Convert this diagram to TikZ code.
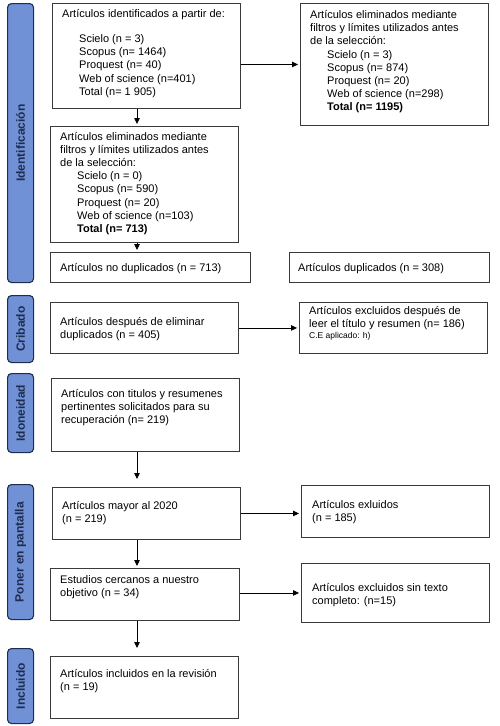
\documentclass[tikz,border=0pt]{standalone}
\usepackage{fontspec}
\setmainfont{Liberation Sans}
\usetikzlibrary{positioning, arrows.meta}
\definecolor{stageBlue}{HTML}{7191D6}
\definecolor{stageNavy}{HTML}{1E2D4F}
\definecolor{boxGrey}{HTML}{3A3A3A}
\newcommand{\dbindent}{\hspace*{17pt}}

\begin{document}
\begin{tikzpicture}[x=1pt, y=-1pt, font=\fontsize{11}{13.2}\selectfont,
  stage/.style={draw=stageNavy, fill=stageBlue, line width=1.1pt, rounded corners=4pt, minimum width=26pt, anchor=north west, inner sep=0pt},
  stagelabel/.style={rotate=90, text=stageNavy, font=\fontsize{12}{14}\selectfont\bfseries},
  flowbox/.style={draw=boxGrey, line width=0.9pt, fill=white, anchor=north west, inner sep=0pt},
  flowtext/.style={anchor=base west, align=flush left, text width=185pt, inner sep=0pt},
  flowarrow/.style={-{Triangle[length=6pt,width=5.5pt]}, line width=0.8pt, shorten >=2pt}]
  \useasboundingbox (0,0) rectangle (500,726);
  % stages
  \node[stage, minimum height=279pt] (identBar) at (7,3) {};
  \node[stagelabel] at (identBar.center) {Identificación};
  \node[stage, minimum height=67pt] (cribBar) at (7,295) {};
  \node[stagelabel] at (cribBar.center) {Cribado};
  \node[stage, minimum height=79pt] (idonBar) at (7,373) {};
  \node[stagelabel] at (idonBar.center) {Idoneidad};
  \node[stage, minimum height=135pt] (screenBar) at (7,484) {};
  \node[stagelabel] at (screenBar.center) {Poner en pantalla};
  \node[stage, minimum height=75pt] (inclBar) at (7,648) {};
  \node[stagelabel] at (inclBar.center) {Incluido};
  % identification
  \node[flowbox, minimum width=188pt, minimum height=105pt] (found) at (52,3) {};
  \node[flowtext] at ([xshift=10pt, yshift=-14pt]found.north west) {Artículos identificados a partir de:\\[12.3pt]
    \dbindent Scielo (n = 3)\\ \dbindent Scopus (n= 1464)\\ \dbindent Proquest (n= 40)\\
    \dbindent Web of science (n=401)\\ \dbindent Total (n= 1 905)};
  \node[flowbox, minimum width=188pt, minimum height=122pt] (removedA) at (300,3) {};
  \node[flowtext] at ([xshift=10pt, yshift=-15.5pt]removedA.north west) {Artículos eliminados mediante\\
    filtros y límites utilizados antes\\ de la selección:\\
    \dbindent Scielo (n = 3)\\ \dbindent Scopus (n= 874)\\ \dbindent Proquest (n= 20)\\
    \dbindent Web of science (n=298)\\ \dbindent\textbf{Total (n= 1195)}};
  \node[flowbox, minimum width=188pt, minimum height=116pt] (sieved) at (50,126) {};
  \node[flowtext] at ([xshift=10pt, yshift=-14pt]sieved.north west) {Artículos eliminados mediante\\
    filtros y límites utilizados antes\\ de la selección:\\
    \dbindent Scielo (n = 0)\\ \dbindent Scopus (n= 590)\\ \dbindent Proquest (n= 20)\\
    \dbindent Web of science (n=103)\\ \dbindent\textbf{Total (n= 713)}};
  \node[flowbox, minimum width=200pt, minimum height=30pt] (unique) at (50,252) {};
  \node[flowtext] at ([xshift=10pt, yshift=-19pt]unique.north west) {Artículos no duplicados (n = 713)};
  \node[flowbox, minimum width=200pt, minimum height=30pt] (dups) at (289,252) {};
  \node[flowtext] at ([xshift=9pt, yshift=-19pt]dups.north west) {Artículos duplicados (n = 308)};
  % screening
  \node[flowbox, minimum width=188pt, minimum height=51pt] (afterdup) at (50,302) {};
  \node[flowtext] at ([xshift=10pt, yshift=-23pt]afterdup.north west) {Artículos después de eliminar\\ duplicados (n = 405)};
  \node[flowbox, minimum width=188pt, minimum height=51pt] (excluded) at (299,302) {};
  \node[flowtext] at ([xshift=10pt, yshift=-12pt]excluded.north west) {Artículos excluidos después de\\
    leer el título y resumen (n= 186)\\[-1.5pt] {\fontsize{8.5}{10}\selectfont C.E aplicado: h)}};
  % eligibility
  \node[flowbox, minimum width=188pt, minimum height=73pt] (relevant) at (51,378) {};
  \node[flowtext] at ([xshift=10pt, yshift=-19pt]relevant.north west) {Artículos con titulos y resumenes\\
    pertinentes solicitados para su\\ recuperación (n= 219)};
  % screen
  \node[flowbox, minimum width=188pt, minimum height=52pt] (recent) at (52,487) {};
  \node[flowtext] at ([xshift=10pt, yshift=-22pt]recent.north west) {Artículos mayor al 2020\\ (n = 219)};
  \node[flowbox, minimum width=188pt, minimum height=52pt] (older) at (301,485) {};
  \node[flowtext] at ([xshift=11pt, yshift=-23pt]older.north west) {Artículos exluidos\\ (n = 185)};
  \node[flowbox, minimum width=189pt, minimum height=52pt] (close) at (50,568) {};
  \node[flowtext] at ([xshift=10pt, yshift=-15pt]close.north west) {Estudios cercanos a nuestro\\ objetivo (n = 34)};
  \node[flowbox, minimum width=188pt, minimum height=59pt] (noFull) at (301,563) {};
  \node[flowtext] at ([xshift=11pt, yshift=-28pt]noFull.north west) {Artículos excluidos sin texto\\ completo: (n=15)};
  % included
  \node[flowbox, minimum width=188pt, minimum height=62pt] (included) at (50,656) {};
  \node[flowtext] at ([xshift=10pt, yshift=-21pt]included.north west) {Artículos incluidos en la revisión\\ (n = 19)};
  % arrows
  \coordinate (spine) at (137,0);
  \draw[flowarrow] (found.east |- removedA.west) -- (removedA.west);
  \draw[flowarrow] (found.south -| spine) -- (sieved.north -| spine);
  \draw[flowarrow] (sieved.south -| spine) -- (unique.north -| spine);
  \draw[flowarrow] (afterdup.east) -- (afterdup.east -| excluded.west);
  \draw[flowarrow, shorten >=8pt] (relevant.south -| spine) -- (recent.north -| spine);
  \draw[flowarrow] (recent.east) -- (recent.east -| older.west);
  \draw[flowarrow] (recent.south -| spine) -- (close.north -| spine);
  \draw[flowarrow] (close.east |- noFull.west) -- (noFull.west);
  \draw[flowarrow, shorten >=8pt] (close.south -| spine) -- (included.north -| spine);
\end{tikzpicture}
\end{document}
